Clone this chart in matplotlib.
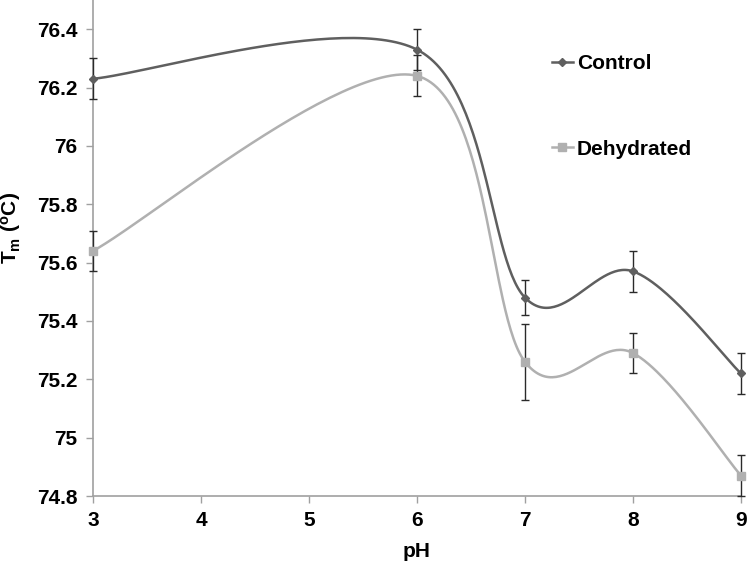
import numpy as np
import matplotlib
matplotlib.use("Agg")
import matplotlib.pyplot as plt

plt.rcParams['font.family'] = ['Liberation Sans', 'DejaVu Sans']

# data
ph = [3, 6, 7, 8, 9]
control = [76.23, 76.33, 75.48, 75.57, 75.22]
control_err = [0.07, 0.07, 0.06, 0.07, 0.07]
dehyd = [75.64, 76.24, 75.26, 75.29, 74.87]
dehyd_err = [0.07, 0.07, 0.13, 0.07, 0.07]
xticks = [3, 4, 5, 6, 7, 8, 9]
yticks = [74.8, 75, 75.2, 75.4, 75.6, 75.8, 76, 76.2, 76.4]


def smooth(x, y, n=60):
    # Excel-like smoothed line (Catmull-Rom as Bezier segments)
    P = np.column_stack([x, y]).astype(float)
    P = np.vstack([P[0], P, P[-1]])
    out = []
    t = np.linspace(0, 1, n)[:, None]
    for i in range(1, len(P) - 2):
        p0, p1 = P[i], P[i + 1]
        c1 = p0 + (P[i + 1] - P[i - 1]) / 6
        c2 = p1 - (P[i + 2] - P[i]) / 6
        seg = (1 - t)**3 * p0 + 3 * (1 - t)**2 * t * c1 + 3 * (1 - t) * t**2 * c2 + t**3 * p1
        out.append(seg)
    out = np.vstack(out)
    return out[:, 0], out[:, 1]


fig = plt.figure(figsize=(7.48, 5.65), dpi=100)
ax = fig.add_axes([0.1243, 0.1221, 0.8663, 0.8779])

c1 = '#5f5f5f'
c2 = '#b0b0b0'
fs = 15

sx, sy = smooth(ph, control)
ax.plot(sx, sy, color=c1, lw=1.8, zorder=2, clip_on=False)
sx, sy = smooth(ph, dehyd)
ax.plot(sx, sy, color=c2, lw=1.8, zorder=2, clip_on=False)

for y, e in [(control, control_err), (dehyd, dehyd_err)]:
    eb = ax.errorbar(ph, y, yerr=e, fmt='none', ecolor='#2a2a2a', elinewidth=1, capsize=3, zorder=3)
    for art in eb.lines[1] + eb.lines[2]:
        art.set_clip_on(False)
ax.plot(ph, control, 'D', color=c1, ms=4.5, zorder=4, clip_on=False)
ax.plot(ph, dehyd, 's', color=c2, ms=6, zorder=4, clip_on=False)

# legend handles
h1, = ax.plot([], [], '-D', color=c1, lw=1.8, ms=4.5, label='Control')
h2, = ax.plot([], [], '-s', color=c2, lw=1.8, ms=6, label='Dehydrated')
leg = ax.legend(handles=[h1, h2], loc='upper left', bbox_to_anchor=(0.679, 0.929),
                frameon=False, handlelength=1.0, handletextpad=0.2,
                labelspacing=3.2, prop={'weight': 'bold', 'size': fs})

ax.set_xlim(3, 9)
ax.set_ylim(74.8, 76.5)
ax.set_xticks(xticks)
ax.set_xticklabels([str(v) for v in xticks])
ax.set_yticks(yticks)
ax.set_yticklabels([('%g' % v) for v in yticks])

for s in ['top', 'right']:
    ax.spines[s].set_visible(False)
for s in ['left', 'bottom']:
    ax.spines[s].set_color('#a0a0a0')
    ax.spines[s].set_linewidth(1.2)
ax.tick_params(axis='both', direction='out', length=5, width=1, color='#a0a0a0',
               labelsize=fs, pad=6)
for lab in ax.get_xticklabels() + ax.get_yticklabels():
    lab.set_fontweight('bold')

ax.set_xlabel('pH', fontsize=fs, fontweight='bold')
ax.set_ylabel('T$_\\mathregular{m}$ ($\\mathregular{^o}$C)', fontsize=fs, fontweight='bold')
ax.xaxis.set_label_coords(0.5, -0.092)
ax.yaxis.set_label_coords(-0.108, 0.54)

fig.savefig('out.png', dpi=100)
